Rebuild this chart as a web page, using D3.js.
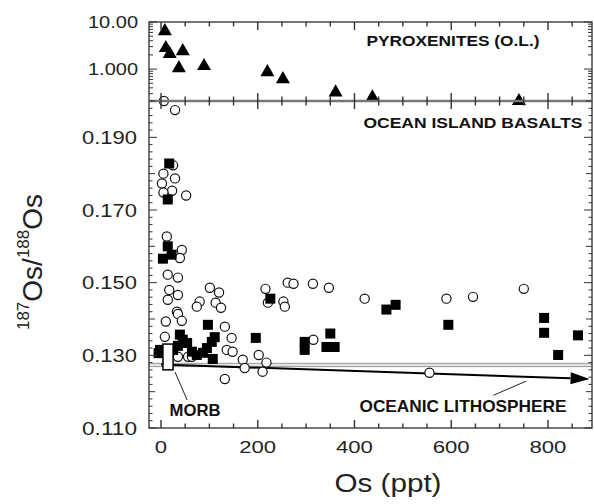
<!DOCTYPE html>
<html><head><meta charset="utf-8">
<script src="https://cdn.jsdelivr.net/npm/d3@7"></script>
<style>body{margin:0;background:#fff}svg{display:block}text{font-family:"Liberation Sans",Arial,Helvetica,sans-serif}</style>
</head><body>
<script>
// ---------- data ----------
const xTickValues = [0, 200, 400, 600, 800];
const yTickValues = [0.110, 0.130, 0.150, 0.170, 0.190];
const topTickValues = [1, 10];
const topTickLabels = ["1.000", "10.00"];

// Pyroxenites (O.L.) : [Os ppt, 187Os/188Os]
const pyroxenites = [
  [8, 6.4], [10, 2.8], [18, 2.1], [45, 2.4], [37, 1.05], [89, 1.16],
  [220, 0.86], [252, 0.61], [361, 0.32], [437, 0.25], [740, 0.21]
];

// Ocean island basalts, open circles
const oibOpen = [
  [6, 0.2000], [29, 0.1975],
  [25, 0.1823], [5, 0.1800], [29, 0.1787], [2, 0.1773], [23, 0.1753], [5, 0.1748], [52, 0.1740],
  [12, 0.1627], [43, 0.1590], [39, 0.1568],
  [14, 0.1522], [35, 0.1514], [17, 0.1480], [35, 0.1466], [14, 0.1453],
  [101, 0.1486], [120, 0.1473], [80, 0.1448], [74, 0.1434], [113, 0.1445], [124, 0.1431],
  [33, 0.1420], [35, 0.1414], [10, 0.1393], [43, 0.1395], [8, 0.1351],
  [132, 0.1379], [146, 0.1348], [136, 0.1315], [148, 0.1310], [169, 0.1288], [173, 0.1265],
  [35, 0.1296], [56, 0.1296], [64, 0.1296], [132, 0.1235],
  [202, 0.1301], [218, 0.1280], [210, 0.1255],
  [216, 0.1483], [221, 0.1445], [253, 0.1448], [256, 0.1434],
  [262, 0.1500], [274, 0.1497], [314, 0.1497], [347, 0.1486], [315, 0.1343],
  [421, 0.1456], [590, 0.1456], [645, 0.1461], [750, 0.1483], [555, 0.1252]
];

// Ocean island basalts, filled squares
const oibFilled = [
  [17, 0.1828], [14, 0.1729], [14, 0.1600], [4, 0.1566], [22, 0.1577],
  [39, 0.1357], [45, 0.1343], [35, 0.1326], [25, 0.1315], [54, 0.1334], [-2, 0.1315], [-5, 0.1306],
  [111, 0.1350], [105, 0.1337], [95, 0.1320], [87, 0.1307], [74, 0.1301], [64, 0.1310], [107, 0.1290],
  [97, 0.1384], [196, 0.1348], [226, 0.1456],
  [297, 0.1337], [297, 0.1315], [350, 0.1360], [342, 0.1323], [359, 0.1323],
  [466, 0.1426], [485, 0.1439], [594, 0.1384],
  [792, 0.1403], [792, 0.1362], [862, 0.1355], [821, 0.1301]
];

// annotations (data coordinates)
const morbOs = [4, 25], morbRatio = [0.1260, 0.1331];
const morbLeaderOs = [29, 54], morbLeaderRatio = [0.1254, 0.1177];
const bandRatio = [0.1269, 0.1278];
const arrowOs = [0, 886], arrowRatio = [0.1275, 0.1235];
const litLeaderOs = [687, 755], litLeaderRatio = [0.1190, 0.1229];

// ---------- layout ----------
const W = 594, H = 504;
const L = 149, R = 592, T = 22, M = 101, B = 428;
const x = d3.scaleLinear().domain([-24.8, 891]).range([L, R]);
const yTop = d3.scaleLog().domain([0.21, 10]).range([M, T]);
const yBot = d3.scaleLinear().domain([0.110, 0.200]).range([B, M]);

const svg = d3.select("body").append("svg").attr("width", W).attr("height", H);
const axisCol = "#555";

// lithosphere band & arrow (behind points)
const gA = svg.append("g");
gA.append("rect").attr("x", L).attr("width", R - L)
  .attr("y", yBot(bandRatio[1])).attr("height", yBot(bandRatio[0]) - yBot(bandRatio[1]))
  .attr("fill", "#e4e4e4").attr("stroke", "#999").attr("stroke-width", 1);
{
  const x0 = x(arrowOs[0]), y0 = yBot(arrowRatio[0]), x1 = x(arrowOs[1]), y1 = yBot(arrowRatio[1]);
  const ang = Math.atan2(y1 - y0, x1 - x0), hl = 19, hw = 6;
  const bx = x1 - hl * Math.cos(ang), by = y1 - hl * Math.sin(ang);
  gA.append("line").attr("x1", x0).attr("y1", y0).attr("x2", bx).attr("y2", by)
    .attr("stroke", "#000").attr("stroke-width", 2);
  const px = -Math.sin(ang) * hw, py = Math.cos(ang) * hw;
  gA.append("path").attr("d", `M${x1},${y1}L${bx + px},${by + py}L${bx - px},${by - py}Z`).attr("fill", "#000");
}

// points
svg.append("g").selectAll("circle").data(oibOpen).join("circle")
  .attr("cx", d => x(d[0])).attr("cy", d => yBot(d[1])).attr("r", 4.6)
  .attr("fill", "#fff").attr("stroke", "#111").attr("stroke-width", 1.2);
svg.append("g").selectAll("rect").data(oibFilled).join("rect")
  .attr("x", d => x(d[0]) - 5).attr("y", d => yBot(d[1]) - 5).attr("width", 10).attr("height", 10)
  .attr("fill", "#000");

// MORB box
svg.append("rect").attr("x", x(morbOs[0])).attr("width", x(morbOs[1]) - x(morbOs[0]))
  .attr("y", yBot(morbRatio[1])).attr("height", yBot(morbRatio[0]) - yBot(morbRatio[1]))
  .attr("fill", "#fff").attr("stroke", "#000").attr("stroke-width", 1.5);
svg.append("line").attr("x1", x(morbLeaderOs[0])).attr("y1", yBot(morbLeaderRatio[0]))
  .attr("x2", x(morbLeaderOs[1])).attr("y2", yBot(morbLeaderRatio[1])).attr("stroke", "#222").attr("stroke-width", 1);
svg.append("line").attr("x1", x(litLeaderOs[0])).attr("y1", yBot(litLeaderRatio[0]))
  .attr("x2", x(litLeaderOs[1])).attr("y2", yBot(litLeaderRatio[1])).attr("stroke", "#222").attr("stroke-width", 1);

// triangles
const tri = d3.symbol().type(d3.symbolTriangle).size(85);
svg.append("g").selectAll("path").data(pyroxenites).join("path")
  .attr("transform", d => `translate(${x(d[0])},${yTop(d[1])})`).attr("d", tri).attr("fill", "#000");

// ---------- frames ----------
const fr = svg.append("g").attr("fill", "none");
fr.append("rect").attr("x", L).attr("y", T).attr("width", R - L).attr("height", B - T)
  .attr("stroke", axisCol).attr("stroke-width", 1.6);
fr.append("line").attr("x1", L).attr("x2", R).attr("y1", M).attr("y2", M).attr("stroke", "#777").attr("stroke-width", 2.6);

// x ticks
const xt = d3.range(0, 851, 50);
const tk = svg.append("g").attr("stroke", "#333").attr("stroke-width", 1.4);
xt.forEach(v => {
  const major = v % 200 === 0, px = x(v);
  const len = major ? 8 : 4.5;
  tk.append("line").attr("x1", px).attr("x2", px).attr("y1", B).attr("y2", B - len);
  tk.append("line").attr("x1", px).attr("x2", px).attr("y1", T).attr("y2", T + len);
  tk.append("line").attr("x1", px).attr("x2", px).attr("y1", M - len).attr("y2", M + len);
});
// y ticks bottom panel
d3.range(0, 46).forEach(i => {
  const v = 0.110 + i * 0.002, py = yBot(v);
  const len = (i % 10 === 0) ? 8 : (i % 5 === 0 ? 6 : 3.5);
  tk.append("line").attr("x1", L).attr("x2", L + len).attr("y1", py).attr("y2", py).attr("stroke-width", 1);
  tk.append("line").attr("x1", R).attr("x2", R - len).attr("y1", py).attr("y2", py).attr("stroke-width", 1);
});
// y ticks top panel (log)
yTop.ticks().forEach(v => {
  const py = yTop(v), major = topTickValues.includes(v);
  const len = major ? 8 : 4;
  tk.append("line").attr("x1", L).attr("x2", L + len).attr("y1", py).attr("y2", py).attr("stroke-width", 1);
  tk.append("line").attr("x1", R).attr("x2", R - len).attr("y1", py).attr("y2", py).attr("stroke-width", 1);
});

// ---------- labels ----------
const lab = svg.append("g").attr("fill", "#222");
xTickValues.forEach(v => {
  const s = String(v);
  lab.append("text").attr("x", x(v)).attr("y", 453).attr("text-anchor", "middle")
    .attr("font-size", 16).attr("textLength", s.length * 12.3).attr("lengthAdjust", "spacingAndGlyphs").text(s);
});
yTickValues.forEach(v => {
  lab.append("text").attr("x", 137).attr("y", yBot(v) + 6.5).attr("text-anchor", "end")
    .attr("font-size", 18).attr("textLength", 55).attr("lengthAdjust", "spacingAndGlyphs").text(v.toFixed(3));
});
topTickValues.forEach((v, i) => {
  lab.append("text").attr("x", 138).attr("y", yTop(v) + 6).attr("text-anchor", "end")
    .attr("font-size", 17).attr("textLength", 50).attr("lengthAdjust", "spacingAndGlyphs").text(topTickLabels[i]);
});

const bold = (t, cx, by, fs, len) => lab.append("text").attr("x", cx).attr("y", by).attr("text-anchor", "middle")
  .attr("font-weight", "bold").attr("font-size", fs).attr("fill", "#111")
  .attr("textLength", len).attr("lengthAdjust", "spacingAndGlyphs").text(t);
bold("PYROXENITES (O.L.)", 453, 46, 15.5, 173);
bold("OCEAN ISLAND BASALTS", 473, 128, 15.5, 219);
bold("MORB", 195, 416, 17, 51);
bold("OCEANIC LITHOSPHERE", 463, 412, 16.5, 207);

lab.append("text").attr("x", 388).attr("y", 492).attr("text-anchor", "middle").attr("font-size", 26)
  .attr("textLength", 107).attr("lengthAdjust", "spacingAndGlyphs").text("Os (ppt)");

const yl = lab.append("text").attr("transform", "translate(42,262) rotate(-90)").attr("text-anchor", "middle").attr("font-size", 28);
yl.append("tspan").attr("font-size", 17).attr("dy", -13).text("187");
yl.append("tspan").attr("dy", 13).text("Os/");
yl.append("tspan").attr("font-size", 17).attr("dy", -13).text("188");
yl.append("tspan").attr("dy", 13).text("Os");
</script>
</body></html>
